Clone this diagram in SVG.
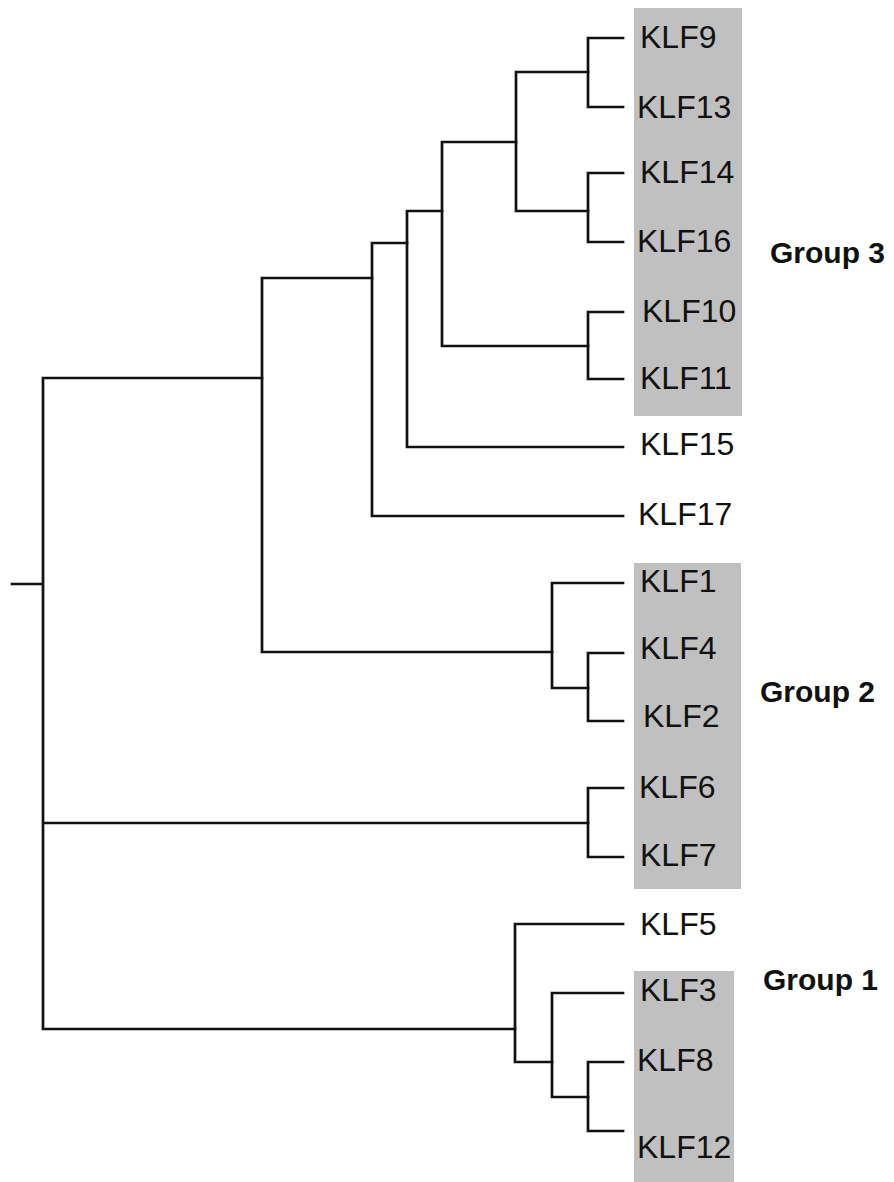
<svg xmlns="http://www.w3.org/2000/svg" width="894" height="1182" viewBox="0 0 894 1182">
<style>
.bg{fill:#c0c0c0}
.lbl{font-family:"Liberation Sans",Arial,sans-serif;font-size:32px;fill:#111}
.grp{font-family:"Liberation Sans",Arial,sans-serif;font-size:30px;font-weight:bold;fill:#111}
.br{fill:none;stroke:#111;stroke-width:2.7;stroke-linecap:square}
</style>
<rect width="894" height="1182" fill="#fff"/>
<g id="shading">
<rect class="bg" x="634" y="8" width="108" height="408"/>
<rect class="bg" x="634" y="563" width="107" height="326"/>
<rect class="bg" x="634" y="971" width="100" height="211"/>
</g>
<g id="connectors">
<path class="br" d="M12 584H43M43 378V1029M43 378H262M43 823H588M43 1029H515"/>
<path class="br" d="M262 278V652M262 278H372M262 652H552"/>
<path class="br" d="M372 243V516M372 243H407M372 516H623"/>
<path class="br" d="M407 211V447M407 211H442M407 447H623"/>
<path class="br" d="M442 142V346M442 142H516M442 346H588"/>
<path class="br" d="M516 72V211M516 72H588M516 211H588"/>
<path class="br" d="M588 38V107M588 38H623M588 107H623"/>
<path class="br" d="M588 173V242M588 173H623M588 242H623"/>
<path class="br" d="M588 312V379M588 312H623M588 379H623"/>
<path class="br" d="M552 583V688M552 583H623M552 688H588"/>
<path class="br" d="M588 653V721M588 653H623M588 721H623"/>
<path class="br" d="M588 788V857M588 788H623M588 857H623"/>
<path class="br" d="M515 924V1062M515 924H623M515 1062H552"/>
<path class="br" d="M552 993V1097M552 993H623M552 1097H588"/>
<path class="br" d="M588 1062V1131M588 1062H623M588 1131H623"/>
</g>
<g id="leaf-KLF9"><text class="lbl" x="640" y="48">KLF9</text></g>
<g id="leaf-KLF13"><text class="lbl" x="637" y="118">KLF13</text></g>
<g id="leaf-KLF14"><text class="lbl" x="640" y="183">KLF14</text></g>
<g id="leaf-KLF16"><text class="lbl" x="637" y="252">KLF16</text></g>
<g id="leaf-KLF10"><text class="lbl" x="642" y="322">KLF10</text></g>
<g id="leaf-KLF11"><text class="lbl" x="640" y="389">KLF11</text></g>
<g id="leaf-KLF15"><text class="lbl" x="640" y="455">KLF15</text></g>
<g id="leaf-KLF17"><text class="lbl" x="638" y="525">KLF17</text></g>
<g id="leaf-KLF1"><text class="lbl" x="640" y="592">KLF1</text></g>
<g id="leaf-KLF4"><text class="lbl" x="640" y="659">KLF4</text></g>
<g id="leaf-KLF2"><text class="lbl" x="643" y="727">KLF2</text></g>
<g id="leaf-KLF6"><text class="lbl" x="639" y="798">KLF6</text></g>
<g id="leaf-KLF7"><text class="lbl" x="640" y="866">KLF7</text></g>
<g id="leaf-KLF5"><text class="lbl" x="640" y="935">KLF5</text></g>
<g id="leaf-KLF3"><text class="lbl" x="640" y="1001">KLF3</text></g>
<g id="leaf-KLF8"><text class="lbl" x="637" y="1071">KLF8</text></g>
<g id="leaf-KLF12"><text class="lbl" x="637" y="1158">KLF12</text></g>
<g id="group3"><text class="grp" x="770" y="263">Group 3</text></g>
<g id="group2"><text class="grp" x="760" y="702">Group 2</text></g>
<g id="group1"><text class="grp" x="763" y="990">Group 1</text></g>
</svg>
